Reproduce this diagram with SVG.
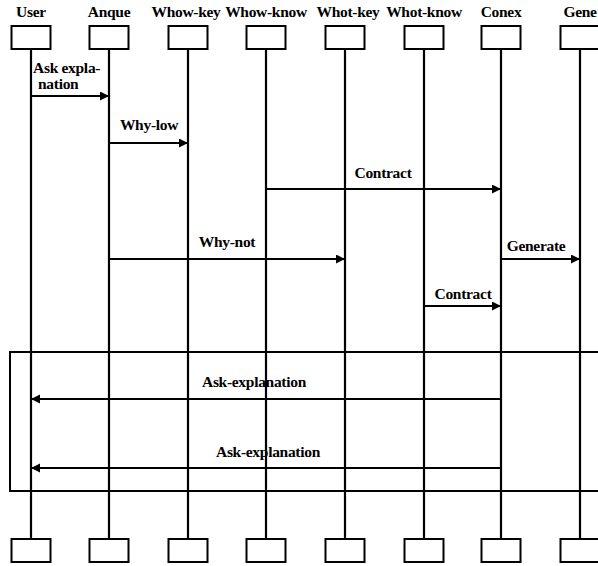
<svg xmlns="http://www.w3.org/2000/svg" width="598" height="566" viewBox="0 0 598 566">
<style>
text{font-family:"Liberation Serif","Times New Roman",serif;font-size:15.5px;font-weight:bold;fill:#000;letter-spacing:-0.3px}
.hd{text-anchor:middle}
.mid{text-anchor:middle}
.box{fill:#fff;stroke:#000;stroke-width:2}
.life{stroke:#000;stroke-width:2.2}
.msg{stroke:#000;stroke-width:2;fill:none}
.frame{fill:none;stroke:#000;stroke-width:2}
</style>
<defs>
<marker id="ah" markerWidth="10" markerHeight="10" refX="9" refY="4.5" orient="auto" markerUnits="userSpaceOnUse">
<path d="M0,0 L9,4.5 L0,9 Z" fill="#000"/>
</marker>
</defs>
<rect width="598" height="566" fill="#fff"/>
<g id="frame"><rect class="frame" x="10" y="352" width="600" height="139"/></g>
<g id="User"><text class="hd" x="31" y="17">User</text><line class="life" x1="31" y1="49" x2="31" y2="539"/><rect class="box" x="11.5" y="26" width="39" height="23"/><rect class="box" x="11.5" y="539" width="39" height="23"/></g>
<g id="Anque"><text class="hd" x="109" y="17">Anque</text><line class="life" x1="109" y1="49" x2="109" y2="539"/><rect class="box" x="89.5" y="26" width="39" height="23"/><rect class="box" x="89.5" y="539" width="39" height="23"/></g>
<g id="Whow-key"><text class="hd" x="186" y="17">Whow-key</text><line class="life" x1="188" y1="49" x2="188" y2="539"/><rect class="box" x="168.5" y="26" width="39" height="23"/><rect class="box" x="168.5" y="539" width="39" height="23"/></g>
<g id="Whow-know"><text class="hd" x="266" y="17">Whow-know</text><line class="life" x1="266" y1="49" x2="266" y2="539"/><rect class="box" x="246.5" y="26" width="39" height="23"/><rect class="box" x="246.5" y="539" width="39" height="23"/></g>
<g id="Whot-key"><text class="hd" x="348" y="17">Whot-key</text><line class="life" x1="345" y1="49" x2="345" y2="539"/><rect class="box" x="325.5" y="26" width="39" height="23"/><rect class="box" x="325.5" y="539" width="39" height="23"/></g>
<g id="Whot-know"><text class="hd" x="424" y="17">Whot-know</text><line class="life" x1="424" y1="49" x2="424" y2="539"/><rect class="box" x="404.5" y="26" width="39" height="23"/><rect class="box" x="404.5" y="539" width="39" height="23"/></g>
<g id="Conex"><text class="hd" x="501" y="17">Conex</text><line class="life" x1="501" y1="49" x2="501" y2="539"/><rect class="box" x="481.5" y="26" width="39" height="23"/><rect class="box" x="481.5" y="539" width="39" height="23"/></g>
<g id="Gene"><text class="hd" x="580" y="17">Gene</text><line class="life" x1="580" y1="49" x2="580" y2="539"/><rect class="box" x="560.5" y="26" width="39" height="23"/><rect class="box" x="560.5" y="539" width="39" height="23"/></g>
<g id="connectors">
<line class="msg" x1="31" y1="96" x2="109" y2="96" marker-end="url(#ah)"/>
<text x="33" y="73">Ask expla-</text>
<text x="38" y="89">nation</text>
<line class="msg" x1="109" y1="143" x2="188" y2="143" marker-end="url(#ah)"/>
<text class="mid" x="149" y="130">Why-low</text>
<line class="msg" x1="266" y1="189" x2="501" y2="189" marker-end="url(#ah)"/>
<text class="mid" x="383" y="178">Contract</text>
<line class="msg" x1="109" y1="259" x2="345" y2="259" marker-end="url(#ah)"/>
<text class="mid" x="227" y="247">Why-not</text>
<line class="msg" x1="501" y1="259" x2="580" y2="259" marker-end="url(#ah)"/>
<text class="mid" x="536" y="251">Generate</text>
<line class="msg" x1="424" y1="306" x2="501" y2="306" marker-end="url(#ah)"/>
<text class="mid" x="463" y="299">Contract</text>
<line class="msg" x1="501" y1="399" x2="31" y2="399" marker-end="url(#ah)"/>
<text class="mid" x="254" y="387">Ask-explanation</text>
<line class="msg" x1="501" y1="468" x2="31" y2="468" marker-end="url(#ah)"/>
<text class="mid" x="268" y="457">Ask-explanation</text>
</g>
</svg>
